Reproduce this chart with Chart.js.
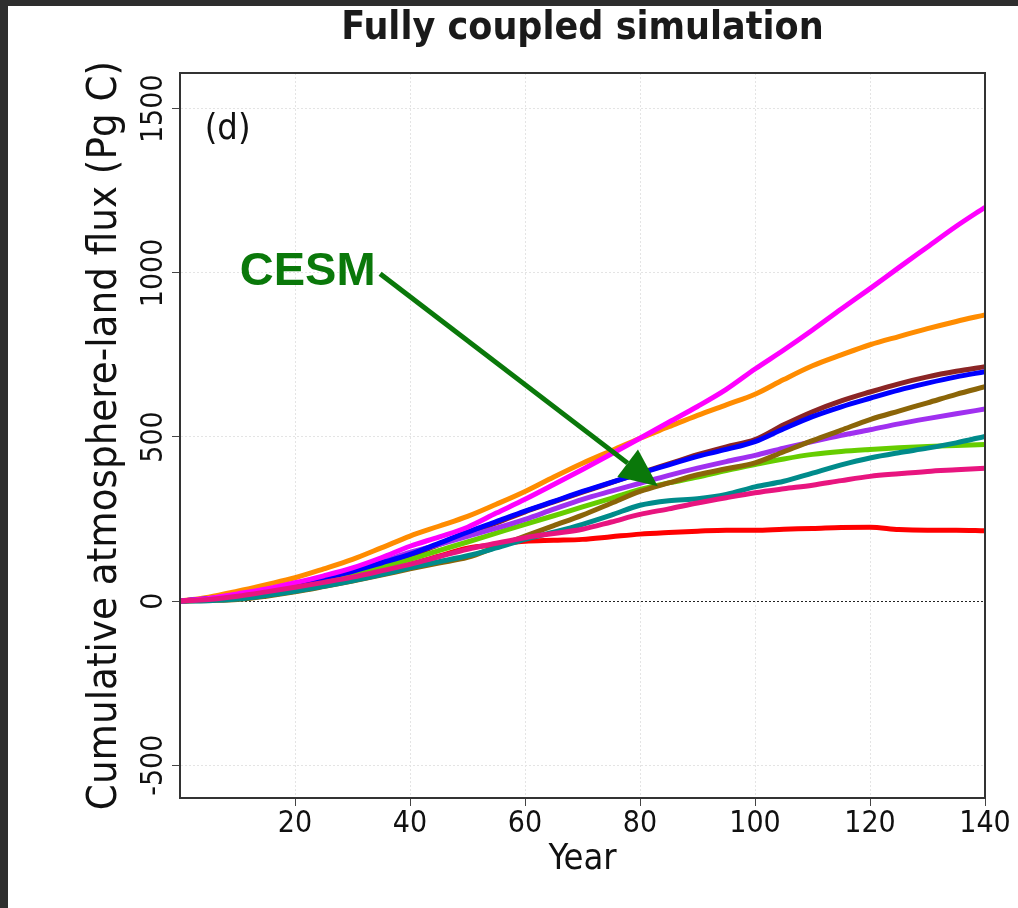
<!DOCTYPE html>
<html>
<head>
<meta charset="utf-8">
<title>Fully coupled simulation</title>
<script src="https://cdn.jsdelivr.net/npm/chart.js@4.4.1/dist/chart.umd.min.js"></script>
<style>
    body { margin: 0; background: #2e2e2e; width: 1018px; height: 908px; overflow: hidden; }
    #wrap { position: absolute; left: 8px; top: 6px; width: 1010px; height: 902px; background: #fff; }
</style>
</head>
<body>
<div id="wrap"><canvas id="chart" width="1010" height="902"></canvas></div>
<script>
// Model years (x axis)
const years = [0, 5, 10, 15, 20, 25, 30, 35, 40, 45, 50, 55, 60, 65, 70, 75, 80, 85, 90, 95, 100, 105, 110, 115, 120, 125, 130, 135, 140];

// Cumulative atmosphere-land flux per model (Pg C)
const magenta = [0, 8, 22, 37, 56, 77, 101, 132, 167, 195, 225, 268, 310, 355, 401, 448, 496, 545, 593, 645, 707, 765, 826, 890, 952, 1016, 1079, 1142, 1200];
const orange = [0, 12, 30, 50, 71, 98, 127, 162, 198, 228, 258, 295, 334, 378, 420, 458, 496, 531, 566, 598, 630, 675, 717, 750, 781, 806, 830, 852, 872];
const blue = [0, 7, 18, 32, 49, 70, 91, 116, 142, 176, 210, 242, 274, 304, 334, 362, 389, 415, 441, 462, 486, 525, 562, 592, 618, 643, 664, 683, 699];
const darkRed = [0, 6, 15, 29, 45, 65, 86, 112, 138, 172, 205, 238, 272, 302, 332, 361, 390, 418, 446, 470, 492, 537, 577, 610, 637, 662, 683, 700, 714];
const brown = [0, 2, 5, 15, 28, 44, 61, 79, 98, 116, 133, 165, 198, 230, 262, 298, 334, 360, 385, 403, 421, 455, 489, 521, 553, 579, 604, 630, 653];
const purple = [0, 8, 20, 35, 52, 72, 95, 120, 148, 172, 197, 222, 249, 280, 310, 335, 359, 383, 405, 425, 444, 466, 486, 505, 522, 540, 556, 571, 585];
const green = [0, 6, 15, 26, 40, 60, 81, 104, 127, 154, 180, 207, 234, 260, 287, 313, 340, 360, 378, 398, 416, 433, 447, 456, 462, 467, 471, 474, 477];
const teal = [0, 1, 6, 17, 30, 45, 62, 81, 101, 120, 138, 162, 188, 210, 234, 262, 292, 306, 312, 325, 348, 365, 390, 415, 436, 452, 466, 482, 502];
const pink = [0, 5, 15, 28, 42, 57, 73, 92, 112, 135, 158, 176, 193, 206, 219, 241, 264, 281, 299, 315, 330, 342, 353, 367, 380, 388, 395, 400, 405];
const red = [0, 4, 12, 25, 40, 56, 73, 92, 112, 137, 161, 172, 182, 185, 188, 196, 204, 209, 213, 216, 216, 219, 221, 224, 225, 218, 216, 216, 214];

// Axis ticks
const xTicks = [20, 40, 60, 80, 100, 120, 140];
const yTicks = [-500, 0, 500, 1000, 1500];

// Annotations (data coordinates)
const panelLabel = { text: "(d)", x: 4.3, y: 1435 };
const cesmLabel = { text: "CESM", x: 10.4, y: 1003 };
const cesmArrow = { from: { x: 34.8, y: 997 }, to: { x: 83.1, y: 350 } };

const FONT = "'DejaVu Sans Condensed', 'DejaVu Sans', sans-serif";
const CESM_GREEN = "#0a780a";

/**
 * Builds one line dataset
 * @param {Array} values series values
 * @param {String} color line colour
 * @returns {Object} dataset
 */
function _line(values, color) {
    return {
        data: years.map((year, i) => ({ x: year, y: values[i] })),
        borderColor: color,
        backgroundColor: color,
        borderWidth: 5,
        pointRadius: 0,
        cubicInterpolationMode: "monotone",
        fill: false,
    };
}

// Draws box, panel label, CESM label and arrow
const annotationPlugin = {
    id: "annotations",
    afterDatasetsDraw(chart) {
        const ctx = chart.ctx;
        const xs = chart.scales.x;
        const ys = chart.scales.y;
        const area = chart.chartArea;

        // Box around plot
        ctx.save();
        ctx.strokeStyle = "#333";
        ctx.lineWidth = 2;
        ctx.strokeRect(area.left, area.top, area.right - area.left, area.bottom - area.top);

        // Panel label
        ctx.fillStyle = "#111";
        ctx.font = `36px ${FONT}`;
        ctx.textAlign = "left";
        ctx.textBaseline = "middle";
        ctx.fillText(panelLabel.text, xs.getPixelForValue(panelLabel.x), ys.getPixelForValue(panelLabel.y));

        // CESM label
        ctx.fillStyle = CESM_GREEN;
        ctx.font = "bold 47px 'Liberation Sans', Arial, sans-serif";
        ctx.fillText(cesmLabel.text, xs.getPixelForValue(cesmLabel.x), ys.getPixelForValue(cesmLabel.y));

        // Arrow
        const x1 = xs.getPixelForValue(cesmArrow.from.x);
        const y1 = ys.getPixelForValue(cesmArrow.from.y);
        const x2 = xs.getPixelForValue(cesmArrow.to.x);
        const y2 = ys.getPixelForValue(cesmArrow.to.y);
        const angle = Math.atan2(y2 - y1, x2 - x1);
        const headLength = 38;
        const headHalf = 17;
        const bx = x2 - headLength * Math.cos(angle);
        const by = y2 - headLength * Math.sin(angle);
        ctx.strokeStyle = CESM_GREEN;
        ctx.lineWidth = 5;
        ctx.beginPath();
        ctx.moveTo(x1, y1);
        ctx.lineTo(bx, by);
        ctx.stroke();
        ctx.beginPath();
        ctx.moveTo(x2, y2);
        ctx.lineTo(bx + headHalf * Math.sin(angle), by - headHalf * Math.cos(angle));
        ctx.lineTo(bx - headHalf * Math.sin(angle), by + headHalf * Math.cos(angle));
        ctx.closePath();
        ctx.fill();
        ctx.restore();
    },
};

const gridColor = (context) => (context.tick && context.tick.value === 0 ? "#222" : "#e4e4e4");

new Chart(document.getElementById("chart"), {
    type: "line",
    data: {
        datasets: [
            _line(pink, "#e8157f"),
            _line(magenta, "#ff00ff"),
            _line(teal, "#008b8b"),
            _line(brown, "#8b6508"),
            _line(blue, "#0000ff"),
            _line(purple, "#a030f0"),
            _line(green, "#66cd00"),
            _line(orange, "#ff8c00"),
            _line(darkRed, "#8b2525"),
            _line(red, "#ff0000"),
        ],
    },
    options: {
        responsive: false,
        animation: false,
        layout: { padding: { left: 0, right: 33, top: 0, bottom: 0 } },
        plugins: {
            legend: { display: false },
            tooltip: { enabled: false },
            title: {
                display: true,
                fullSize: false,
                text: "Fully coupled simulation",
                color: "#1a1a1a",
                font: { family: FONT, size: 39, weight: "bold", lineHeight: 1 },
                padding: { top: 3, bottom: 25 },
            },
        },
        scales: {
            x: {
                type: "linear",
                min: 0,
                max: 140,
                afterFit: (scale) => { scale.height = 110; },
                afterBuildTicks: (scale) => { scale.ticks = xTicks.map((value) => ({ value })); },
                ticks: {
                    color: "#111",
                    font: { family: FONT, size: 30 },
                    padding: 0,
                    maxRotation: 0,
                    autoSkip: false,
                    callback: (value) => String(value),
                },
                grid: { color: gridColor, tickColor: "#444", tickLength: 8, lineWidth: 1 },
                border: { display: true, color: "#333", width: 2, dash: [2, 2] },
                title: {
                    display: true,
                    text: "Year",
                    color: "#111",
                    font: { family: FONT, size: 36 },
                    padding: { top: 0, bottom: 27 },
                },
            },
            y: {
                type: "linear",
                min: -600,
                max: 1609,
                afterFit: (scale) => { scale.width = 172; },
                afterBuildTicks: (scale) => { scale.ticks = yTicks.map((value) => ({ value })); },
                ticks: {
                    color: "#111",
                    font: { family: FONT, size: 30 },
                    minRotation: 90,
                    maxRotation: 90,
                    crossAlign: "center",
                    padding: -17,
                    callback: (value) => String(value),
                },
                grid: { color: gridColor, tickColor: "#444", tickLength: 8, lineWidth: 1 },
                border: { display: true, color: "#333", width: 2, dash: [2, 2] },
                title: {
                    display: true,
                    text: "Cumulative atmosphere-land flux (Pg C)",
                    color: "#111",
                    font: { family: FONT, size: 41.5 },
                    padding: { top: 72, bottom: 0 },
                },
            },
        },
    },
    plugins: [annotationPlugin],
});
</script>
</body>
</html>
